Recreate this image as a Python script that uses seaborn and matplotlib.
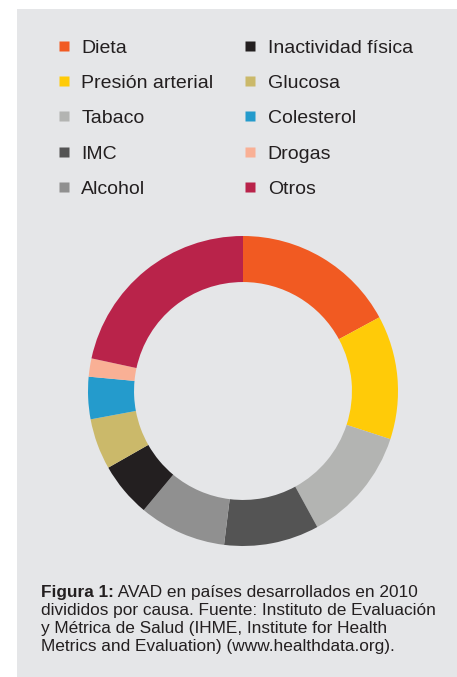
import matplotlib
matplotlib.use("Agg")
import matplotlib.pyplot as plt
import seaborn as sns
from matplotlib.lines import Line2D
from matplotlib.patches import Rectangle

causes = ["Dieta", "Presión arterial", "Tabaco", "IMC", "Alcohol",
          "Inactividad física", "Glucosa", "Colesterol", "Drogas", "Otros"]
shares = [17.1, 12.9, 12.0, 9.9, 9.1, 5.7, 5.3, 4.4, 1.9, 21.6]
colors = ["#F15A22", "#FFCB08", "#B3B4B2", "#545454", "#909090",
          "#231F20", "#CBB96A", "#249BCC", "#F9B095", "#B9234A"]

caption_bold = "Figura 1:"
caption_lines = [
    " AVAD en países desarrollados en 2010",
    "divididos por causa. Fuente: Instituto de Evaluación",
    "y Métrica de Salud (IHME, Institute for Health",
    "Metrics and Evaluation) (www.healthdata.org).",
]

sns.set_style("white")
plt.rcParams["font.family"] = ["Liberation Sans", "DejaVu Sans"]

W, H = 457, 677
bg = "#E5E6E8"
ink = "#231F20"

fig = plt.figure(figsize=(W / 100, H / 100), dpi=100)
fig.patch.set_facecolor("white")
fig.patches.append(Rectangle((17 / W, 0), 1 - 17 / W, 1 - 9 / H,
                             transform=fig.transFigure, facecolor=bg,
                             edgecolor="none", zorder=-5))

# donut: centre (243, 391) px, outer radius 155 px
cx, cy, R = 243, 391, 155
ax = fig.add_axes([(cx - R) / W, (H - cy - R) / H, 2 * R / W, 2 * R / H])
ax.set_zorder(2)
ax.set_facecolor("none")
ax.pie(shares, colors=colors, startangle=90, counterclock=False, radius=1,
       wedgeprops=dict(width=0.297, edgecolor="none", linewidth=0))
ax.set_xlim(-1, 1)
ax.set_ylim(-1, 1)
ax.set_aspect("equal")
ax.axis("off")

# legend, two columns
handles = [Line2D([], [], linestyle="none", marker="s", markersize=7.2,
                  markerfacecolor=c, markeredgecolor="none") for c in colors]
fig.legend(handles, causes, ncol=2, loc="upper left",
           bbox_to_anchor=(54 / W, 1 - 39 / H), frameon=False,
           fontsize=14, labelcolor=ink, borderpad=0, borderaxespad=0,
           handlelength=1.0, handletextpad=0.4, columnspacing=1.4,
           labelspacing=0.91)

# caption with bold lead
x0 = 41 / W
y_lines = [592, 610, 628, 646]
bold = fig.text(x0, 1 - y_lines[0] / H, caption_bold, fontsize=12.4,
                fontweight="bold", color=ink, va="center")
fig.canvas.draw()
bb = bold.get_window_extent()
fig.text(bb.x1 / W, 1 - y_lines[0] / H, caption_lines[0], fontsize=12.4,
         color=ink, va="center")
for txt, y in zip(caption_lines[1:], y_lines[1:]):
    fig.text(x0, 1 - y / H, txt, fontsize=12.4, color=ink, va="center")

fig.savefig("out.png", dpi=100, facecolor=fig.get_facecolor())
